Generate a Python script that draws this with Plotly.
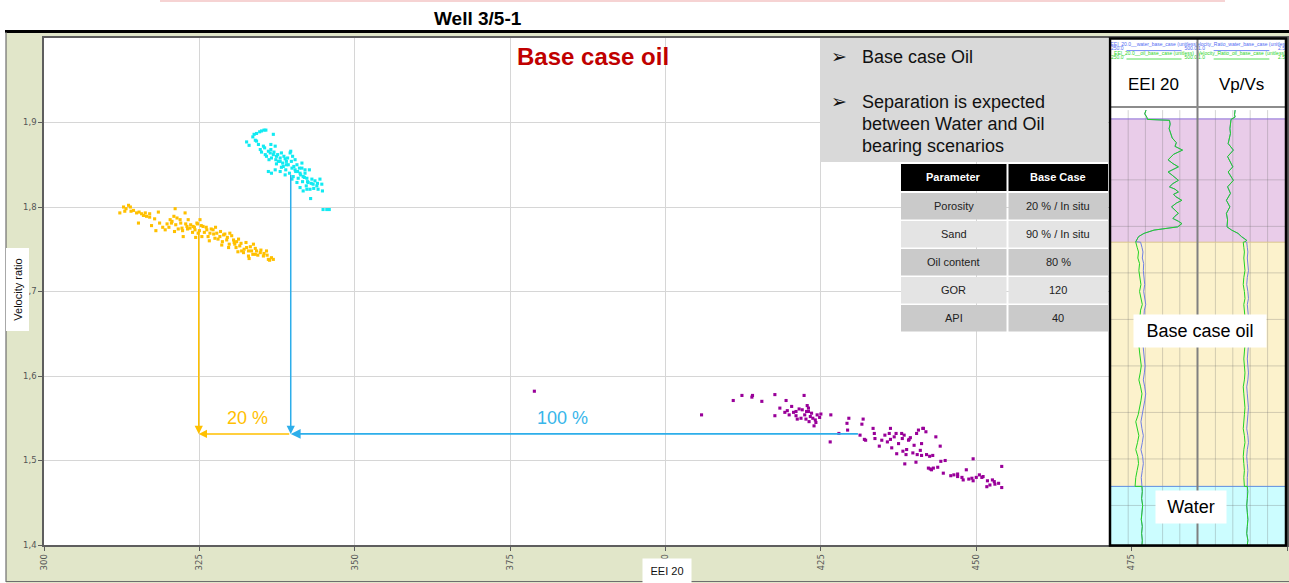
import plotly.graph_objects as go

# ---------------------------------------------------------------- data
# Cross-plot EEI 20 (x) vs velocity ratio Vp/Vs (y)
yellow_pts = [  # porosity-shifted cluster (20 %)
    (312.2, 1.793), (312.8, 1.800), (313.6, 1.802), (313.9, 1.800), (313.0, 1.795),
    (314.4, 1.796), (314.9, 1.793), (315.3, 1.794), (315.7, 1.792), (316.3, 1.793),
    (316.5, 1.789), (317.0, 1.788), (315.2, 1.781), (317.3, 1.778), (318.4, 1.794),
    (319.5, 1.773), (320.3, 1.785), (320.5, 1.781), (321.1, 1.798), (320.9, 1.789),
    (321.4, 1.787), (321.9, 1.785), (322.2, 1.775), (322.4, 1.765), (322.7, 1.793),
    (323.0, 1.777), (323.2, 1.785), (323.5, 1.775), (324.0, 1.777), (324.3, 1.773),
    (324.6, 1.781), (324.8, 1.769), (325.1, 1.785), (325.4, 1.765), (325.6, 1.777),
    (326.2, 1.773), (326.7, 1.769), (327.2, 1.773), (327.5, 1.763), (327.8, 1.769),
    (328.3, 1.765), (328.9, 1.767), (329.4, 1.761), (329.7, 1.752), (329.9, 1.769),
    (330.5, 1.761), (330.7, 1.756), (331.0, 1.759), (331.5, 1.754), (331.8, 1.748),
    (332.1, 1.746), (332.6, 1.752), (332.9, 1.742), (333.4, 1.748), (333.7, 1.756),
    (334.0, 1.744), (334.2, 1.748), (334.8, 1.746), (335.3, 1.742), (335.8, 1.748),
    (336.1, 1.738), (336.6, 1.740), (336.9, 1.738), (319.8, 1.780), (320.1, 1.776),
    (320.6, 1.783), (321.2, 1.779), (321.6, 1.774), (322.0, 1.781), (322.3, 1.772),
    (322.8, 1.780), (323.1, 1.774), (323.6, 1.779), (323.9, 1.770), (324.2, 1.776),
    (324.7, 1.780), (325.0, 1.772), (325.3, 1.778), (325.8, 1.770), (326.1, 1.776),
    (326.4, 1.765), (326.9, 1.774), (327.3, 1.768), (327.6, 1.776), (328.0, 1.762),
    (328.4, 1.771), (328.7, 1.759), (329.1, 1.768), (329.5, 1.764), (329.8, 1.756),
    (330.2, 1.766), (330.6, 1.758), (330.9, 1.752), (331.3, 1.762), (331.7, 1.757),
    (332.2, 1.750), (332.5, 1.758), (332.9, 1.748), (333.2, 1.753), (333.6, 1.744),
    (334.0, 1.751), (334.4, 1.743), (334.9, 1.749), (335.4, 1.745), (335.9, 1.743),
    (336.3, 1.737), (317.8, 1.786), (318.6, 1.781), (319.1, 1.776), (313.2, 1.798),
    (314.0, 1.795), (316.0, 1.790), (317.0, 1.792), (321.0, 1.771), (324.4, 1.764),
    (326.6, 1.760), (328.6, 1.755), (331.2, 1.747), (333.0, 1.739), (318.0, 1.772),
]
cyan_pts = [  # water base case
    (332.6, 1.877), (333.0, 1.873), (333.6, 1.883), (333.8, 1.886), (334.2, 1.887),
    (334.7, 1.889), (335.0, 1.890), (335.4, 1.891), (335.7, 1.891), (336.9, 1.886),
    (334.0, 1.879), (334.5, 1.874), (334.8, 1.868), (335.0, 1.865), (335.3, 1.872),
    (335.6, 1.862), (335.8, 1.860), (336.1, 1.866), (336.4, 1.864), (336.5, 1.874),
    (336.6, 1.858), (336.9, 1.862), (337.2, 1.872), (337.3, 1.856), (337.4, 1.860),
    (337.7, 1.854), (338.0, 1.858), (338.2, 1.864), (338.4, 1.852), (338.5, 1.848),
    (338.8, 1.857), (338.9, 1.844), (339.0, 1.854), (339.3, 1.850), (339.5, 1.840),
    (339.6, 1.864), (339.7, 1.866), (339.9, 1.846), (340.0, 1.860), (340.1, 1.836),
    (340.4, 1.856), (340.5, 1.842), (340.7, 1.850), (340.9, 1.834), (341.1, 1.846),
    (341.2, 1.840), (341.5, 1.852), (341.6, 1.830), (341.7, 1.836), (342.0, 1.844),
    (342.2, 1.825), (342.3, 1.834), (342.5, 1.829), (342.7, 1.844), (342.8, 1.821),
    (342.9, 1.810), (343.1, 1.833), (343.3, 1.827), (343.6, 1.831), (343.9, 1.825),
    (344.1, 1.821), (344.4, 1.833), (344.7, 1.827), (344.8, 1.819), (336.1, 1.842),
    (336.6, 1.840), (337.2, 1.844), (338.0, 1.842), (338.8, 1.838), (339.9, 1.833),
    (340.7, 1.829), (341.2, 1.823), (341.7, 1.819), (342.3, 1.821), (344.9, 1.797),
    (345.5, 1.797), (345.9, 1.797), (336.5, 1.868), (337.0, 1.865), (337.6, 1.862),
    (338.0, 1.854), (338.6, 1.860), (339.2, 1.858), (339.8, 1.854), (340.2, 1.848),
    (340.8, 1.842), (341.3, 1.838), (341.9, 1.835), (342.4, 1.830), (343.0, 1.828),
    (338.2, 1.847), (339.0, 1.850), (340.4, 1.844), (341.5, 1.846), (342.0, 1.840),
    (343.4, 1.822), (344.0, 1.828), (337.4, 1.851), (336.2, 1.856), (335.5, 1.870),
    (334.2, 1.878),
]
purple_pts = [  # oil base case
    (378.9, 1.582), (405.8, 1.554), (410.9, 1.571), (412.3, 1.577), (413.9, 1.575),
    (414.0, 1.577), (415.5, 1.570), (417.6, 1.578), (417.6, 1.553), (418.4, 1.562),
    (419.4, 1.571), (419.2, 1.557), (419.6, 1.559), (419.9, 1.554), (420.3, 1.564),
    (420.6, 1.557), (421.0, 1.558), (421.2, 1.549), (421.5, 1.561), (421.8, 1.550),
    (422.3, 1.577), (422.4, 1.554), (422.6, 1.549), (422.7, 1.558), (422.8, 1.565),
    (423.0, 1.562), (423.1, 1.546), (423.3, 1.552), (423.5, 1.556), (423.7, 1.550),
    (423.9, 1.541), (424.1, 1.548), (424.2, 1.545), (424.4, 1.554), (424.8, 1.551),
    (425.0, 1.555), (426.5, 1.522), (426.6, 1.554), (427.9, 1.532), (429.2, 1.544),
    (429.3, 1.536), (429.5, 1.550), (431.3, 1.530), (431.6, 1.543), (431.8, 1.549),
    (432.0, 1.525), (432.2, 1.524), (433.4, 1.538), (433.6, 1.532), (433.7, 1.526),
    (434.4, 1.517), (435.3, 1.530), (435.7, 1.522), (436.0, 1.532), (436.2, 1.525),
    (436.2, 1.538), (436.4, 1.515), (437.1, 1.532), (437.2, 1.508), (438.0, 1.532),
    (438.1, 1.526), (438.2, 1.511), (438.4, 1.530), (438.5, 1.496), (438.7, 1.507),
    (438.8, 1.513), (439.1, 1.524), (439.2, 1.525), (439.4, 1.527), (439.8, 1.509),
    (440.3, 1.498), (440.4, 1.532), (440.5, 1.507), (440.7, 1.536), (441.2, 1.506),
    (441.4, 1.538), (441.5, 1.538), (441.2, 1.520), (441.9, 1.534), (442.0, 1.507),
    (442.5, 1.505), (442.3, 1.491), (442.6, 1.490), (442.8, 1.489), (443.1, 1.491),
    (443.5, 1.528), (443.8, 1.492), (444.2, 1.517), (444.3, 1.499), (444.7, 1.485),
    (445.9, 1.482), (447.0, 1.481), (447.7, 1.480), (447.9, 1.477), (448.4, 1.489),
    (449.3, 1.479), (449.5, 1.502), (449.5, 1.476), (450.5, 1.483), (450.9, 1.480),
    (451.1, 1.481), (451.7, 1.469), (452.2, 1.471), (452.6, 1.477), (452.9, 1.475),
    (453.6, 1.473), (454.1, 1.493), (454.1, 1.468), (447.0, 1.484), (446.4, 1.483),
    (448.8, 1.478), (450.0, 1.480), (451.8, 1.476), (453.0, 1.472), (437.5, 1.520),
    (436.8, 1.528), (434.8, 1.524), (440.0, 1.518), (441.0, 1.512), (443.0, 1.506),
    (445.0, 1.500), (422.0, 1.560), (423.0, 1.558), (421.0, 1.553),
]
yellow_x = [p[0] for p in yellow_pts]; yellow_y = [p[1] for p in yellow_pts]
cyan_x = [p[0] for p in cyan_pts]; cyan_y = [p[1] for p in cyan_pts]
purple_x = [p[0] for p in purple_pts]; purple_y = [p[1] for p in purple_pts]

# shift arrows (EEI / velocity ratio values)
arrow_base_vr = 1.5315
porosity_arrow_eei = 324.9
porosity_arrow_top_vr = 1.772
water_arrow_eei = 339.7
water_arrow_top_vr = 1.840
oil_arrow_eei = 431.2
shift_labels = ["20 %", "100 %"]

x_ticks = [300, 325, 350, 375, 400, 425, 450, 475, 500]
y_ticks = [1.4, 1.5, 1.6, 1.7, 1.8, 1.9]

table_header = ["Parameter", "Base Case"]
table_params = ["Porosity", "Sand", "Oil content", "GOR", "API"]
table_values = ["20 % / In situ", "90 % / In situ", "80 %", "120", "40"]

# ---- well log panel (depth in m) ----
log_top_depth = 2000.0
zone_names = ["Shale", "Base case oil", "Water"]
zone_top = [2001.9, 2028.4, 2080.9]
zone_base = [2028.4, 2080.9, 2093.5]

eei_shale_depth = [2000.0, 2000.8, 2001.5, 2002.0, 2002.2, 2003.0, 2004.0, 2005.0, 2006.0, 2007.0,
                   2007.8, 2008.6, 2009.5, 2010.7, 2011.5, 2012.2, 2012.8, 2013.3, 2014.0, 2015.1,
                   2015.8, 2016.5, 2017.0, 2017.6, 2018.1, 2018.6, 2019.4, 2020.0, 2020.8, 2021.5,
                   2022.2, 2022.8, 2023.3, 2023.9, 2024.4, 2025.1, 2025.5, 2025.8, 2026.5, 2027.2,
                   2028.3]
eei_shale = [352, 348, 354, 356, 420, 422, 419, 424, 428, 440,
             436, 458, 432, 416, 430, 446, 430, 416, 428, 446,
             430, 420, 436, 446, 432, 438, 456, 440, 426, 436,
             446, 436, 430, 446, 456, 444, 412, 375, 346, 330,
             322]
oil_zone_depth = [2028.4, 2029.5, 2030.5, 2031.8, 2033.0, 2034.5, 2036.0, 2037.5, 2039.0, 2040.5,
                  2041.8, 2043.0, 2044.5, 2046.0, 2047.5, 2049.0, 2050.5, 2052.0, 2053.5, 2055.0,
                  2056.5, 2058.0, 2059.5, 2061.0, 2062.5, 2064.0, 2065.5, 2067.0, 2068.5, 2070.0,
                  2071.5, 2073.0, 2074.5, 2076.0, 2077.5, 2079.0, 2080.9]
eei_oil_case = [322, 326, 330, 328, 333, 331, 335, 337, 333, 338,
                341, 336, 334, 332, 336, 334, 331, 333, 336, 338,
                335, 331, 336, 340, 337, 333, 329, 322, 326, 331,
                327, 322, 328, 330, 326, 322, 320]
eei_water_case = [336, 340, 343, 341, 345, 344, 347, 348, 345, 349,
                  351, 347, 346, 344, 347, 346, 343, 345, 347, 349,
                  347, 344, 348, 351, 348, 345, 342, 337, 340, 344,
                  341, 337, 342, 344, 341, 338, 340]
water_zone_depth = [2080.9, 2082.0, 2083.5, 2085.0, 2086.5, 2088.0, 2089.5, 2091.0, 2092.5, 2093.5]
eei_water_zone = [340, 341, 339, 342, 340, 338, 341, 339, 341, 340]

vpvs_shale_depth = [2000.0, 2001.0, 2001.5, 2002.0, 2003.0, 2004.0, 2005.0, 2007.2, 2008.6, 2010.0,
                    2012.2, 2013.3, 2015.1, 2016.5, 2017.9, 2019.4, 2020.8, 2022.2, 2023.6, 2025.1,
                    2025.8, 2026.5, 2027.2, 2028.0, 2028.3]
vpvs_shale = [1.64, 1.63, 1.64, 1.57, 1.56, 1.55, 1.56, 1.52, 1.61, 1.51,
              1.60, 1.52, 1.61, 1.51, 1.56, 1.49, 1.55, 1.49, 1.51, 1.50,
              1.58, 1.69, 1.75, 1.84, 1.81]
vpvs_oil_case = [1.78, 1.79, 1.80, 1.79, 1.80, 1.81, 1.79, 1.78, 1.80, 1.81,
                 1.79, 1.80, 1.81, 1.80, 1.79, 1.80, 1.81, 1.80, 1.79, 1.80,
                 1.81, 1.80, 1.78, 1.79, 1.80, 1.81, 1.80, 1.79, 1.78, 1.80,
                 1.81, 1.79, 1.78, 1.79, 1.80, 1.79, 1.80]
vpvs_water_case = [1.84, 1.85, 1.86, 1.85, 1.86, 1.87, 1.85, 1.84, 1.86, 1.87,
                   1.85, 1.86, 1.87, 1.86, 1.85, 1.86, 1.87, 1.86, 1.85, 1.86,
                   1.87, 1.86, 1.84, 1.85, 1.86, 1.87, 1.86, 1.85, 1.84, 1.86,
                   1.87, 1.85, 1.84, 1.85, 1.86, 1.85, 1.85]
vpvs_water_zone = [1.85, 1.86, 1.85, 1.84, 1.85, 1.86, 1.85, 1.84, 1.86, 1.85]

eei_scale = [250.0, 500.0]
vpvs_scale = [1.0, 2.5]

# ---------------------------------------------------------------- layout helpers
FONT = "Liberation Sans, Arial, sans-serif"
W, H = 1289, 583
PL, PR, PT, PB = 44, 1287, 38, 545
DEPTH_TOP, DEPTH_BOTTOM = 1984.5, 2093.5


def fx(px):
    return (px - PL) / (PR - PL)


def fy(py):
    return (PB - py) / (PB - PT)


def dep(py):
    return DEPTH_TOP + (py - PT) * (DEPTH_BOTTOM - DEPTH_TOP) / (PB - PT)


def prect(x0, y0, x1, y1, fill, layer="above", line=None):
    return dict(type="rect", xref="paper", yref="paper", x0=fx(x0), x1=fx(x1),
                y0=fy(y1), y1=fy(y0), fillcolor=fill, layer=layer,
                line=line if line else dict(width=0))


def pline(x0, y0, x1, y1, color, width, layer="above"):
    return dict(type="line", xref="paper", yref="paper", x0=fx(x0), x1=fx(x1),
                y0=fy(y0), y1=fy(y1), line=dict(color=color, width=width), layer=layer)


def ann(px, py, text, size=12, color="#000", bold=False, bg=None, **kw):
    d = dict(xref="paper", yref="paper", x=fx(px), y=fy(py), text=f"<b>{text}</b>" if bold else text,
             showarrow=False, font=dict(family=FONT, size=size, color=color),
             xanchor="center", yanchor="middle")
    if bg:
        d["bgcolor"] = bg
    d.update(kw)
    return d


fig = go.Figure()

# ---- cross-plot scatter
for xs, ys, col in [(yellow_x, yellow_y, "#FFC000"), (cyan_x, cyan_y, "#12EAF2"),
                    (purple_x, purple_y, "#990099")]:
    fig.add_trace(go.Scatter(x=xs, y=ys, mode="markers",
                             marker=dict(color=col, size=3.1, symbol="square", line=dict(width=0)),
                             hoverinfo="skip"))

# ---- log panel curves
GREEN, BLUE = "#22D322", "#6F7FE6"
fig.add_trace(go.Scatter(x=eei_shale + eei_water_case + eei_water_zone,
                         y=eei_shale_depth + oil_zone_depth + water_zone_depth,
                         xaxis="x2", yaxis="y2", mode="lines", line=dict(color=BLUE, width=1),
                         hoverinfo="skip"))
fig.add_trace(go.Scatter(x=eei_shale + eei_oil_case + eei_water_zone,
                         y=eei_shale_depth + oil_zone_depth + water_zone_depth,
                         xaxis="x2", yaxis="y2", mode="lines", line=dict(color=GREEN, width=1),
                         hoverinfo="skip"))
fig.add_trace(go.Scatter(x=vpvs_shale + vpvs_water_case + vpvs_water_zone,
                         y=vpvs_shale_depth + oil_zone_depth + water_zone_depth,
                         xaxis="x3", yaxis="y2", mode="lines", line=dict(color=BLUE, width=1),
                         hoverinfo="skip"))
fig.add_trace(go.Scatter(x=vpvs_shale + vpvs_oil_case + vpvs_water_zone,
                         y=vpvs_shale_depth + oil_zone_depth + water_zone_depth,
                         xaxis="x3", yaxis="y2", mode="lines", line=dict(color=GREEN, width=1),
                         hoverinfo="skip"))

# ---- tiny curve headers (clipped to each track)
hdr_rows = [(45.2, 50.6, "#4F6BF2", "water"), (54.0, 59.0, "#2BD42B", "oil")]
for xa, sc, name in [("x2", eei_scale, "EEI_20.0__{}_base_case (unitless)"),
                     ("x3", vpvs_scale, "Velocity_Ratio_{}_base_case (unitless)")]:
    span = sc[1] - sc[0]
    fmt = "{:.1f}"
    for ty, ly, col, case in hdr_rows:
        fig.add_trace(go.Scatter(x=[sc[0] + span / 2], y=[dep(ty)], xaxis=xa, yaxis="y2",
                                 mode="text", text=[name.format(case)], cliponaxis=True,
                                 textfont=dict(family=FONT, size=5, color=col), hoverinfo="skip"))
        fig.add_trace(go.Scatter(x=[sc[0], sc[1]], y=[dep(ly - 1.5)] * 2, xaxis=xa, yaxis="y2",
                                 mode="text", text=[fmt.format(sc[0]), fmt.format(sc[1])],
                                 textposition=["middle right", "middle left"], cliponaxis=True,
                                 textfont=dict(family=FONT, size=5, color=col), hoverinfo="skip"))
        fig.add_trace(go.Scatter(x=[sc[0] + span * 0.18, sc[1] - span * 0.18], y=[dep(ly)] * 2,
                                 xaxis=xa, yaxis="y2", mode="lines", cliponaxis=True,
                                 line=dict(color=col, width=0.8), hoverinfo="skip"))

# ---------------------------------------------------------------- shapes
shapes = []
# page background outside the framed chart
shapes.append(prect(0, 0, W, 30.5, "white", layer="below"))
shapes.append(prect(0, 0, 6, H, "white", layer="below"))
shapes.append(prect(160, 0, 1225, 2, "#F6D3D3", layer="below"))
shapes.append(prect(5, 30, W, 33, "#000000", layer="below"))
shapes.append(pline(6, 32, 6, 582, "#6E6E6E", 1.2, layer="below"))
shapes.append(pline(6, 581.5, W, 581.5, "#6E6E6E", 1.2, layer="below"))

# zone bands, boundaries and grid in the log tracks
band_cols = ["#E9CCE9", "#FCF2CC", "#CCFDFF"]
edge_cols = ["#8A6BD6", "#D9C68A", "#5E8EE0"]
for xa, sc, grid in [("x2", eei_scale, [300, 350, 400, 450]),
                     ("x3", vpvs_scale, [1.3, 1.6, 1.9, 2.2])]:
    for t, b, c in zip(zone_top, zone_base, band_cols):
        shapes.append(dict(type="rect", xref=xa, yref="y2", x0=sc[0], x1=sc[1], y0=t, y1=b,
                           fillcolor=c, line=dict(width=0), layer="below"))
    for gx in grid:
        shapes.append(dict(type="line", xref=xa, yref="y2", x0=gx, x1=gx, y0=log_top_depth,
                           y1=DEPTH_BOTTOM, line=dict(color="rgba(100,100,100,0.28)", width=1),
                           layer="below"))
    for gy in range(2015, 2090, 10):
        shapes.append(dict(type="line", xref=xa, yref="y2", x0=sc[0], x1=sc[1], y0=gy, y1=gy,
                           line=dict(color="rgba(100,100,100,0.28)", width=1), layer="below"))
    for t, c in zip(zone_top, edge_cols):
        shapes.append(dict(type="line", xref=xa, yref="y2", x0=sc[0], x1=sc[1], y0=t, y1=t,
                           line=dict(color=c, width=1), layer="below"))

# bullet text box and parameter table
shapes.append(prect(820, 38, 1108, 162, "#D9D9D9"))
col_x = [(901, 1006.5), (1008.5, 1108)]
row_y = [(164, 191)] + [(193 + 28 * i, 219.5 + 28 * i) for i in range(5)]
for ci, (x0, x1) in enumerate(col_x):
    for ri, (y0, y1) in enumerate(row_y):
        if ri == 0:
            fill = "#000000"
        else:
            fill = "#CACACA" if ri % 2 == 1 else "#E4E4E4"
        shapes.append(prect(x0, y0, x1, y1, fill))

# log panel frame
shapes.append(pline(1197.5, 39, 1197.5, 545, "#808080", 2))
shapes.append(pline(1111, 107, 1285, 107, "#8C8C8C", 2.2))
shapes.append(prect(1110, 38.5, 1286, 545.5, "rgba(0,0,0,0)", line=dict(color="#000", width=2.5)))

# ---------------------------------------------------------------- annotations
anns = []
anns.append(ann(478, 18, "Well 3/5-1", size=19, bold=True))
anns.append(ann(593, 57, "Base case oil", size=24, color="#C00000", bold=True))
# bullets
anns.append(ann(839, 57, "\u27A2", size=19, color="#111"))
anns.append(ann(860, 57, "Base case Oil", size=18, color="#111", xanchor="left"))
anns.append(ann(839, 102, "\u27A2", size=19, color="#111"))
for i, line in enumerate(["Separation is expected", "between Water and Oil", "bearing scenarios"]):
    anns.append(ann(860, 102 + 22 * i, line, size=18, color="#111", xanchor="left"))
# table text
for ci, (x0, x1) in enumerate(col_x):
    cx = (x0 + x1) / 2
    anns.append(ann(cx, (row_y[0][0] + row_y[0][1]) / 2, table_header[ci], size=11,
                    color="white", bold=True))
    vals = table_params if ci == 0 else table_values
    for ri, v in enumerate(vals):
        y0, y1 = row_y[ri + 1]
        anns.append(ann(cx, (y0 + y1) / 2, v, size=11, color="#222"))
# log panel labels
anns.append(ann(1153, 84, "EEI 20", size=17))
anns.append(ann(1241, 84, "Vp/Vs", size=17))
anns.append(ann(1199.5, 330.5, "Base case oil", size=18, bg="white", borderpad=6, width=120))
anns.append(ann(1191, 507, "Water", size=18, bg="white", borderpad=6, width=58))
# axis titles in white boxes
anns.append(ann(17.5, 290, "Velocity ratio", size=11, color="#111", bg="white",
                textangle=-90, borderpad=3, width=76, height=16))
anns.append(ann(667, 571, "EEI 20", size=11, color="#111", bg="white", borderpad=4, width=40,
                height=16))
# shift labels
anns.append(ann(247, 418, shift_labels[0], size=18, color="#FFC000"))
anns.append(ann(562, 418, shift_labels[1], size=18, color="#38B6EA"))

# shift arrows (data coordinates)
YEL, BLU = "#FFC000", "#2DAEEA"
for (tx, ty, sx, sy, col, wdt) in [
    (porosity_arrow_eei, arrow_base_vr, porosity_arrow_eei, porosity_arrow_top_vr, YEL, 1.5),
    (porosity_arrow_eei, arrow_base_vr, water_arrow_eei, arrow_base_vr, YEL, 1.5),
    (water_arrow_eei, arrow_base_vr, water_arrow_eei, water_arrow_top_vr, BLU, 1.5),
    (water_arrow_eei, arrow_base_vr, oil_arrow_eei, arrow_base_vr, BLU, 1.8),
]:
    anns.append(dict(x=tx, y=ty, ax=sx, ay=sy, xref="x", yref="y", axref="x", ayref="y",
                     text="", showarrow=True, arrowhead=2, arrowsize=1.1, arrowwidth=wdt,
                     arrowcolor=col, standoff=0))

# ---------------------------------------------------------------- layout
hidden = dict(showgrid=False, zeroline=False, showline=False, showticklabels=False, ticks="",
              fixedrange=True)
fig.update_layout(
    width=W, height=H, autosize=False,
    margin=dict(l=PL, r=W - PR, t=PT, b=H - PB, pad=0),
    paper_bgcolor="#E1E6C9", plot_bgcolor="white",
    showlegend=False, separators=",.",
    font=dict(family=FONT, color="#555"),
    xaxis=dict(domain=[0, 1], range=[300, 500], tickvals=x_ticks, tickangle=-90,
               showgrid=True, gridcolor="#D6D6D6", gridwidth=1, zeroline=False,
               showline=True, linecolor="#5E5E5E", linewidth=1.5, mirror=True,
               ticks="outside", ticklen=4, tickcolor="#5E5E5E", automargin=False,
               tickfont=dict(family="DejaVu Sans", size=8.5, color="#555")),
    yaxis=dict(domain=[0, 1], range=[1.4, 2.0], tickvals=y_ticks, tickformat=".1f",
               showgrid=True, gridcolor="#D6D6D6", gridwidth=1, zeroline=False,
               showline=True, linecolor="#5E5E5E", linewidth=1.5, mirror=True,
               ticks="outside", ticklen=4, tickcolor="#5E5E5E", automargin=False,
               tickfont=dict(family="DejaVu Sans", size=8.5, color="#555")),
    xaxis2=dict(domain=[fx(1111), fx(1197)], range=eei_scale, anchor="y2", **hidden),
    xaxis3=dict(domain=[fx(1198), fx(1285)], range=vpvs_scale, anchor="y2", **hidden),
    yaxis2=dict(domain=[0, 1], range=[DEPTH_BOTTOM, DEPTH_TOP], anchor="x2", **hidden),
    shapes=shapes,
    annotations=anns,
)

fig.write_html("out.html", config={"displayModeBar": False},
               post_script="document.body.style.margin='0';document.body.style.overflow='hidden';")
